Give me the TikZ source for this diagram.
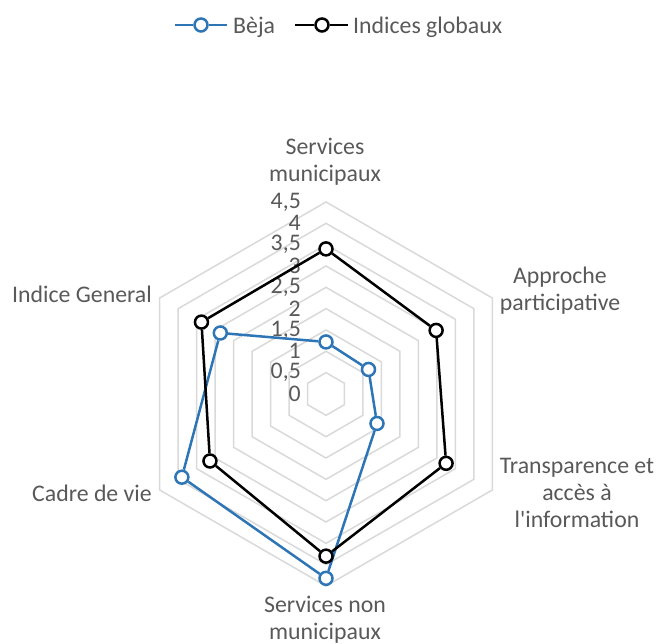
\documentclass[tikz,border=0pt]{standalone}
\usepackage{fontspec}
\setmainfont{Carlito}
\definecolor{txt}{HTML}{595959}
\definecolor{gridc}{HTML}{D9D9D9}
\definecolor{bejac}{RGB}{46,117,182}
\begin{document}
\begin{tikzpicture}[x=1pt,y=1pt,
  lbl/.style={font=\fontsize{23.8}{27}\selectfont, text=txt, inner sep=0pt, align=center},
  gridline/.style={draw=gridc, line width=1.5pt},
  bmark/.style={circle, draw=bejac, fill=white, line width=2.5pt, minimum size=13pt, inner sep=0pt},
  gmark/.style={circle, draw=black, fill=white, line width=2.5pt, minimum size=13pt, inner sep=0pt},
  bline/.style={draw=bejac, line width=2.5pt},
  gline/.style={draw=black, line width=2.5pt}]
\useasboundingbox (0,0) rectangle (659,644);
\def\u{42.67}
\begin{scope}[shift={(326,250)}]
  % grid rings
  \foreach \k in {1,...,9}{
    \draw[gridline] (90:{\k*\u/2}) -- (30:{\k*\u/2}) -- (-30:{\k*\u/2}) -- (-90:{\k*\u/2}) -- (-150:{\k*\u/2}) -- (150:{\k*\u/2}) -- cycle;
  }
  % scale labels
  \foreach \k/\t in {0/0,1/{0,5},2/1,3/{1,5},4/2,5/{2,5},6/3,7/{3,5},8/4,9/{4,5}}{
    \node[lbl, anchor=east] (s\k) at (-25,{\k*\u/2}) {\t};
  }
  % Beja series
  \node[bmark] (b1) at (90:{1.22*\u}) {};
  \node[bmark] (b2) at (30:{1.15*\u}) {};
  \node[bmark] (b3) at (-30:{1.38*\u}) {};
  \node[bmark] (b4) at (-90:{4.32*\u}) {};
  \node[bmark] (b5) at (-150:{3.9*\u}) {};
  \node[bmark] (b6) at (150:{2.86*\u}) {};
  \draw[bline] (b1) -- (b2) -- (b3) -- (b4) -- (b5) -- (b6) -- (b1);
  % global series
  \node[gmark] (g1) at (90:{3.4*\u}) {};
  \node[gmark] (g2) at (30:{2.98*\u}) {};
  \node[gmark] (g3) at (-30:{3.25*\u}) {};
  \node[gmark] (g4) at (-90:{3.8*\u}) {};
  \node[gmark] (g5) at (-150:{3.14*\u}) {};
  \node[gmark] (g6) at (150:{3.37*\u}) {};
  \draw[gline] (g1) -- (g2) -- (g3) -- (g4) -- (g5) -- (g6) -- (g1);
\end{scope}
% category labels
\node[lbl] (c1) at (325,482.5) {Services\\municipaux};
\node[lbl] (c2) at (560,353.5) {Approche\\participative};
\node[lbl] (c3) at (577,151) {Transparence et\\accès à\\l\textquotesingle information};
\node[lbl] (c4) at (325,24.5) {Services non\\municipaux};
\node[lbl, anchor=east] (c5) at (152,151) {Cadre de vie};
\node[lbl, anchor=east] (c6) at (152,350) {Indice General};
% legend
\coordinate (l1a) at (175,619);
\coordinate (l1b) at (227,619);
\node[bmark] (l1m) at (201,619) {};
\draw[bline] (l1a) -- (l1m) -- (l1b);
\node[lbl, anchor=west] (l1t) at (233,617) {Bèja};
\coordinate (l2a) at (295,619);
\coordinate (l2b) at (348,619);
\node[gmark] (l2m) at (322,619) {};
\draw[gline] (l2a) -- (l2m) -- (l2b);
\node[lbl, anchor=west] (l2t) at (353,617) {Indices globaux};
\end{tikzpicture}
\end{document}
